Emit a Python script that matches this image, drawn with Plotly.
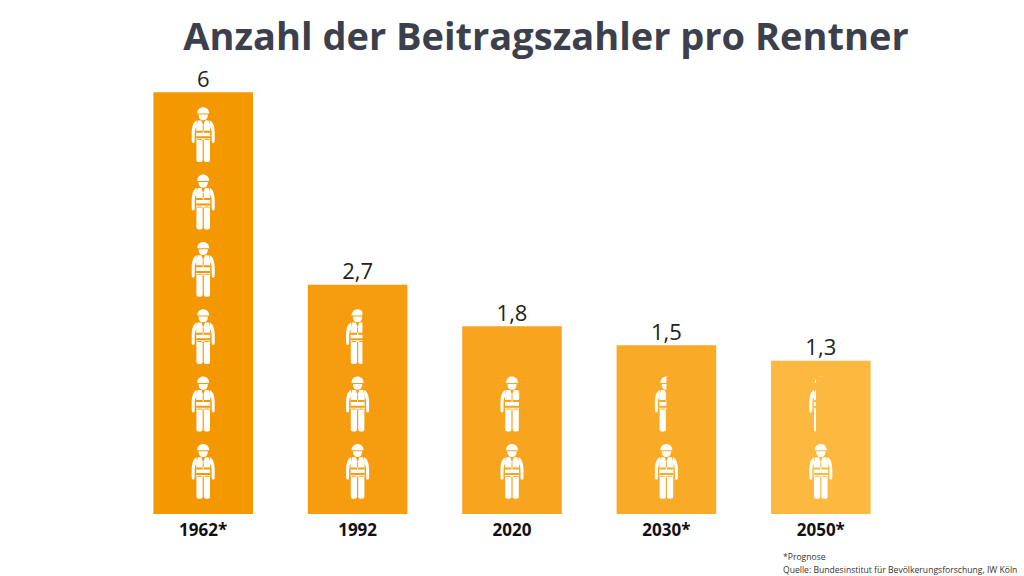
import math
import plotly.graph_objects as go

years = ["1962*", "1992", "2020", "2030*", "2050*"]
value_labels = ["6", "2,7", "1,8", "1,5", "1,3"]
# The number of workers each bar holds as icons
workers = [6, 2.7, 1.8, 1.5, 1.3]
# Drawn bar heights (the original is not to scale)
drawn_heights = [6.0, 3.26, 2.67, 2.40, 2.18]
bar_colors = ["#F39800", "#F59D0E", "#F7A41F", "#F9AB28", "#FDB93F"]

title_text = "Anzahl der Beitragszahler pro Rentner"
note_lines = ["*Prognose", "Quelle: Bundesinstitut für Bevölkerungsforschung, IW Köln"]

FONT = "Open Sans"
ICON_STEP = 0.958
ICON_FIRST = 0.6


def rrect(x0, y0, x1, y1, r):
    return (f"M{x0+r},{y0} L{x1-r},{y0} Q{x1},{y0} {x1},{y0+r} L{x1},{y1-r} Q{x1},{y1} {x1-r},{y1} "
            f"L{x0+r},{y1} Q{x0},{y1} {x0},{y1-r} L{x0},{y0+r} Q{x0},{y0} {x0+r},{y0} Z")


def poly(points):
    return "M" + " L".join(f"{x},{y}" for x, y in points) + " Z"


def arm(s):
    return (f"M{s*6.5},{14.5} C{s*9.5},{13.5} {s*11.5},{9} {s*11.5},{2} L{s*11.5},{-6} "
            f"Q{s*11.5},{-8} {s*10},{-8} Q{s*8.5},{-8} {s*8.5},{-6} L{s*8.5},{2} Q{s*8.5},{6} {s*6.5},{9} Z")


def helmet():
    return "M-6,21.5 C-6,30 6,30 6,21.5 Z"


# icon geometry: pixels around the anchor, y up, anchor in the icon's middle
white_parts = " ".join([
    helmet(),
    "M-4.6,20.5 L4.6,20.5 C4.6,15.5 2,14.8 0,14.8 C-2,14.8 -4.6,15.5 -4.6,20.5 Z",
    poly([(-5.5, 14.5), (-1.8, 14.5), (0, 9.5), (1.8, 14.5), (5.5, 14.5), (7, 8), (7, -5), (-7, -5), (-7, 8)]),
    arm(-1),
    arm(1),
    rrect(-6.8, -27, -0.6, -4, 2),
    rrect(0.6, -27, 6.8, -4, 2),
])
cut_parts = " ".join([
    rrect(-7, 2.4, 7, 4.4, 0),
    rrect(-7, -3.2, 7, -1.2, 0),
    rrect(-0.5, 2.4, 0.5, 9.5, 0),
])

shapes = []
for i, (n, col) in enumerate(zip(workers, bar_colors)):
    whole = math.floor(n)
    part = round(n - whole, 3)
    slots = whole + (1 if part > 0 else 0)
    for j in range(slots):
        anchor = dict(xref="x", yref="y", xanchor=i, yanchor=ICON_FIRST + j * ICON_STEP,
                      xsizemode="pixel", ysizemode="pixel", line=dict(width=0), layer="above")
        shapes.append(dict(type="path", path=white_parts, fillcolor="#FFFFFF", **anchor))
        shapes.append(dict(type="path", path=cut_parts, fillcolor=col, **anchor))
        if j == whole:
            left = -12 + 24 * part
            shapes.append(dict(type="rect", x0=left, x1=13, y0=-28, y1=28, fillcolor=col, **anchor))

fig = go.Figure()
fig.add_trace(go.Bar(
    x=list(range(len(years))), y=drawn_heights, marker=dict(color=bar_colors, line=dict(width=0)),
    width=0.645, hoverinfo="skip",
))
fig.add_trace(go.Scatter(
    x=list(range(len(years))), y=drawn_heights, mode="text", text=value_labels, textposition="top center",
    textfont=dict(family=FONT, size=22, color="#222222"), cliponaxis=False, hoverinfo="skip",
))

annotations = [
    dict(text=line, xref="paper", yref="paper", x=0.8484, y=-0.095 - k * 0.0285,
         xanchor="left", yanchor="middle", showarrow=False, align="left",
         font=dict(family=FONT, size=8.6, color="#333333"))
    for k, line in enumerate(note_lines)
]

fig.update_layout(
    width=1024, height=576, autosize=False,
    margin=dict(l=126, r=126, t=57, b=62),
    paper_bgcolor="#FFFFFF", plot_bgcolor="#FFFFFF", showlegend=False,
    title=dict(text=title_text, x=546 / 1024, xanchor="center", y=1 - 37 / 576, yanchor="middle",
               font=dict(family=FONT, size=38, color="#3C3F4C", weight="bold")),
    xaxis=dict(range=[-0.5, 4.5], tickvals=list(range(len(years))), ticktext=[f"<b>{y}</b>" for y in years],
               tickfont=dict(family=FONT, size=17, color="#111111"), showgrid=False, zeroline=False,
               showline=False, ticks="", ticklabelstandoff=4),
    yaxis=dict(range=[0, 6.5], visible=False),
    shapes=shapes, annotations=annotations,
)
fig.write_html("out.html", config=dict(displayModeBar=False),
               post_script="document.body.style.margin='0';document.body.style.overflow='hidden';")
